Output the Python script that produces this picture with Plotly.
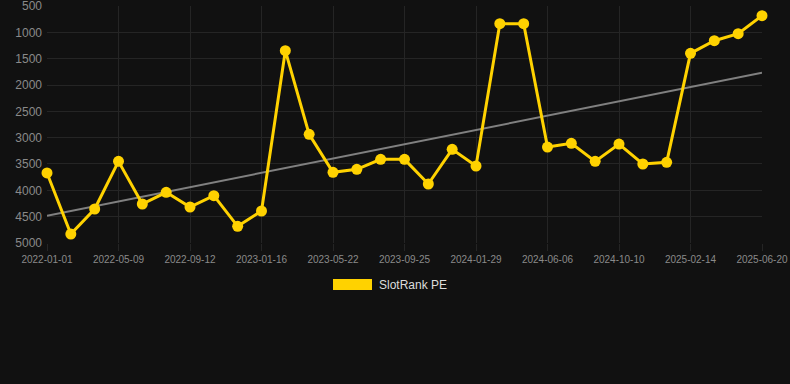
import numpy as np
import plotly.graph_objects as go

dates = [
    "2022-01-01", "2022-02-13", "2022-03-27", "2022-05-09", "2022-06-20", "2022-08-01",
    "2022-09-12", "2022-10-24", "2022-12-05", "2023-01-16", "2023-02-27", "2023-04-10",
    "2023-05-22", "2023-07-03", "2023-08-14", "2023-09-25", "2023-11-06", "2023-12-18",
    "2024-01-29", "2024-03-12", "2024-04-24", "2024-06-06", "2024-07-18", "2024-08-29",
    "2024-10-10", "2024-11-22", "2025-01-03", "2025-02-14", "2025-03-28", "2025-05-09",
    "2025-06-20",
]
rank = [
    3670, 4830, 4355, 3450, 4260, 4038,
    4317, 4102, 4684, 4393, 1348, 2937,
    3659, 3602, 3412, 3412, 3880, 3222,
    3538, 836, 836, 3178, 3108, 3450,
    3121, 3500, 3469, 1399, 1159, 1026,
    684,
]
tick_labels = dates[::3]
y_ticks = [500, 1000, 1500, 2000, 2500, 3000, 3500, 4000, 4500, 5000]
series_name = "SlotRank PE"

idx = np.arange(len(rank))
slope, intercept = np.polyfit(idx, rank, 1)
trend = slope * idx + intercept

gold = "#FFD200"
bg = "#111111"
grid = "#252525"
font = "Liberation Sans, Arial, sans-serif"

fig = go.Figure()
fig.add_trace(go.Scatter(
    x=dates, y=trend, mode="lines",
    line=dict(color="#808080", width=2),
    showlegend=False, hoverinfo="skip", cliponaxis=False,
))
fig.add_trace(go.Scatter(
    x=dates, y=rank, mode="lines+markers", name=series_name,
    line=dict(color=gold, width=3),
    marker=dict(color=gold, size=11),
    showlegend=False, cliponaxis=False,
))

fig.update_layout(
    width=790, height=384,
    paper_bgcolor=bg, plot_bgcolor=bg,
    margin=dict(l=47, r=28, t=6, b=141),
    font=dict(family=font, color="#8a8a8a"),
    showlegend=False,
    xaxis=dict(
        type="category", range=[0, len(dates) - 1],
        tickmode="array", tickvals=tick_labels, ticktext=tick_labels,
        tickfont=dict(size=10, color="#8a8a8a"),
        showgrid=True, gridcolor=grid, gridwidth=1,
        ticks="outside", ticklen=7, tickcolor=grid,
        showline=False, zeroline=False,
        ticklabeloverflow="allow", automargin=False,
    ),
    yaxis=dict(
        range=[5000.5, 499.5], tickmode="array", tickvals=y_ticks,
        tickfont=dict(size=12, color="#8a8a8a"),
        showgrid=True, gridcolor=grid, gridwidth=1,
        ticks="", ticklabelstandoff=4,
        showline=False, zeroline=False,
        ticklabeloverflow="allow", automargin=False,
    ),
    shapes=[dict(
        type="rect", xref="paper", yref="paper",
        x0=(333 - 47) / 715, x1=(372 - 47) / 715,
        y0=(384 - 141 - 290) / 237, y1=(384 - 141 - 279) / 237,
        fillcolor=gold, line=dict(width=0),
    )],
    annotations=[dict(
        text=series_name, xref="paper", yref="paper",
        x=(377 - 47) / 715, y=(384 - 141 - 284.5) / 237,
        xanchor="left", yanchor="middle", showarrow=False,
        font=dict(size=12, color="#dddddd", family=font),
    )],
)

fig.write_html(
    "out.html",
    config={"displayModeBar": False},
    post_script="document.body.style.margin='0';document.body.style.background='#111111';",
)
